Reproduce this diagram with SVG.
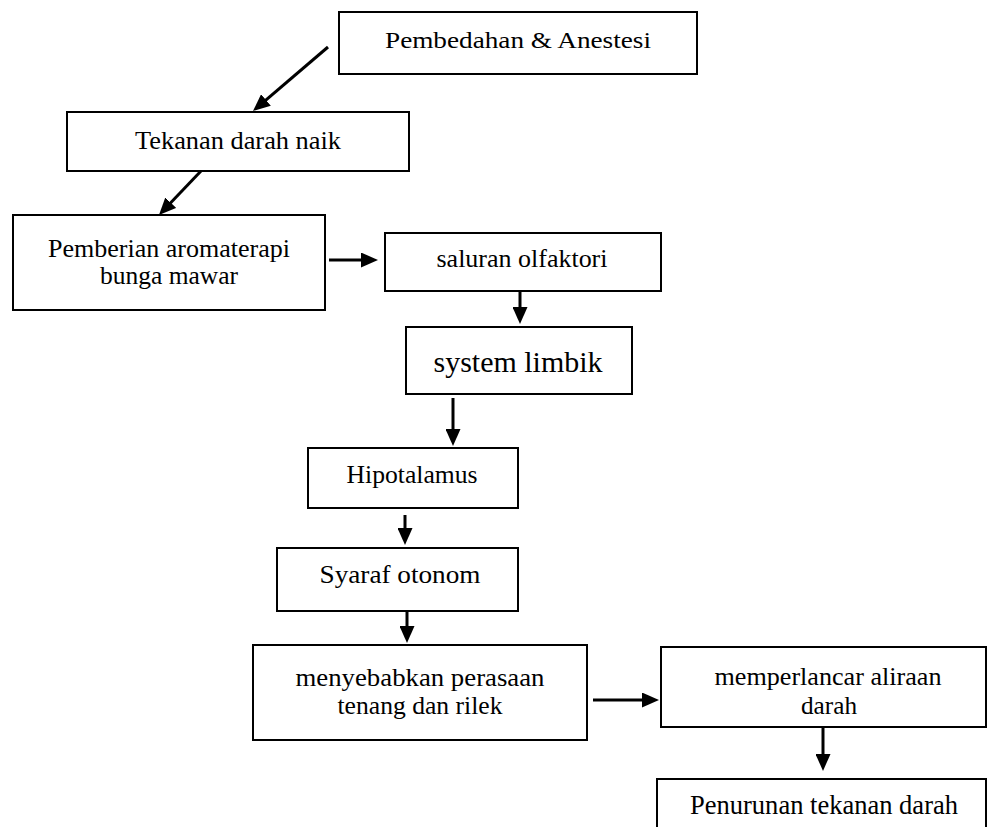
<svg xmlns="http://www.w3.org/2000/svg" width="988" height="827" viewBox="0 0 988 827">
<style>
.box{fill:#fff;stroke:#000;stroke-width:2}
.t{font-family:"Liberation Serif","Times New Roman",serif;fill:#000;text-anchor:middle}
.c{stroke:#000;stroke-width:3;fill:none;marker-end:url(#ah)}
</style>
<defs>
<marker id="ah" markerUnits="userSpaceOnUse" markerWidth="17" markerHeight="15" refX="9" refY="7.5" orient="auto">
<path d="M0,0 L17,7.5 L0,15 Z" fill="#000"/>
</marker>
</defs>
<rect width="988" height="827" fill="#fff"/>
<g id="connectors">
<line class="c" x1="328" y1="47" x2="259.1" y2="105.8"/>
<line class="c" x1="201" y1="171" x2="164.5" y2="209.2"/>
<line class="c" x1="329" y1="260" x2="370" y2="260"/>
<line class="c" x1="520" y1="292" x2="520" y2="316"/>
<line class="c" x1="453" y1="398" x2="453" y2="438"/>
<line class="c" x1="405" y1="515" x2="405" y2="537"/>
<line class="c" x1="407" y1="612" x2="407" y2="635"/>
<line class="c" x1="593" y1="700" x2="651" y2="700"/>
<line class="c" x1="823" y1="728" x2="823" y2="763"/>
</g>
<g id="n1"><rect class="box" x="339" y="12" width="358" height="62"/><text class="t" x="518" y="48" font-size="24" textLength="266" lengthAdjust="spacingAndGlyphs">Pembedahan &amp; Anestesi</text></g>
<g id="n2"><rect class="box" x="67" y="112" width="342" height="59"/><text class="t" x="238" y="149" font-size="25" textLength="206" lengthAdjust="spacingAndGlyphs">Tekanan darah naik</text></g>
<g id="n3"><rect class="box" x="13" y="215" width="312" height="95"/><text class="t" x="169" y="257" font-size="26" textLength="242" lengthAdjust="spacingAndGlyphs">Pemberian  aromaterapi</text><text class="t" x="169" y="284" font-size="26" textLength="138" lengthAdjust="spacingAndGlyphs">bunga mawar</text></g>
<g id="n4"><rect class="box" x="385" y="233" width="276" height="58"/><text class="t" x="522" y="267" font-size="25" textLength="171" lengthAdjust="spacingAndGlyphs">saluran olfaktori</text></g>
<g id="n5"><rect class="box" x="406" y="327" width="226" height="67"/><text class="t" x="518" y="372" font-size="30" textLength="169" lengthAdjust="spacingAndGlyphs">system  limbik</text></g>
<g id="n6"><rect class="box" x="308" y="448" width="210" height="60"/><text class="t" x="412" y="483" font-size="25" textLength="131" lengthAdjust="spacingAndGlyphs">Hipotalamus</text></g>
<g id="n7"><rect class="box" x="277" y="548" width="241" height="63"/><text class="t" x="400" y="583" font-size="25" textLength="161" lengthAdjust="spacingAndGlyphs">Syaraf otonom</text></g>
<g id="n8"><rect class="box" x="253" y="645" width="334" height="95"/><text class="t" x="420" y="686" font-size="26" textLength="249" lengthAdjust="spacingAndGlyphs">menyebabkan perasaan</text><text class="t" x="420" y="714" font-size="26" textLength="165" lengthAdjust="spacingAndGlyphs">tenang dan rilek</text></g>
<g id="n9"><rect class="box" x="661" y="647" width="325" height="80"/><text class="t" x="828" y="685" font-size="26" textLength="227" lengthAdjust="spacingAndGlyphs">memperlancar  aliraan</text><text class="t" x="829" y="714" font-size="26" textLength="56" lengthAdjust="spacingAndGlyphs">darah</text></g>
<g id="n10"><rect class="box" x="657" y="779" width="329" height="70"/><text class="t" x="824" y="814" font-size="27" textLength="268" lengthAdjust="spacingAndGlyphs">Penurunan tekanan darah</text></g>
</svg>
